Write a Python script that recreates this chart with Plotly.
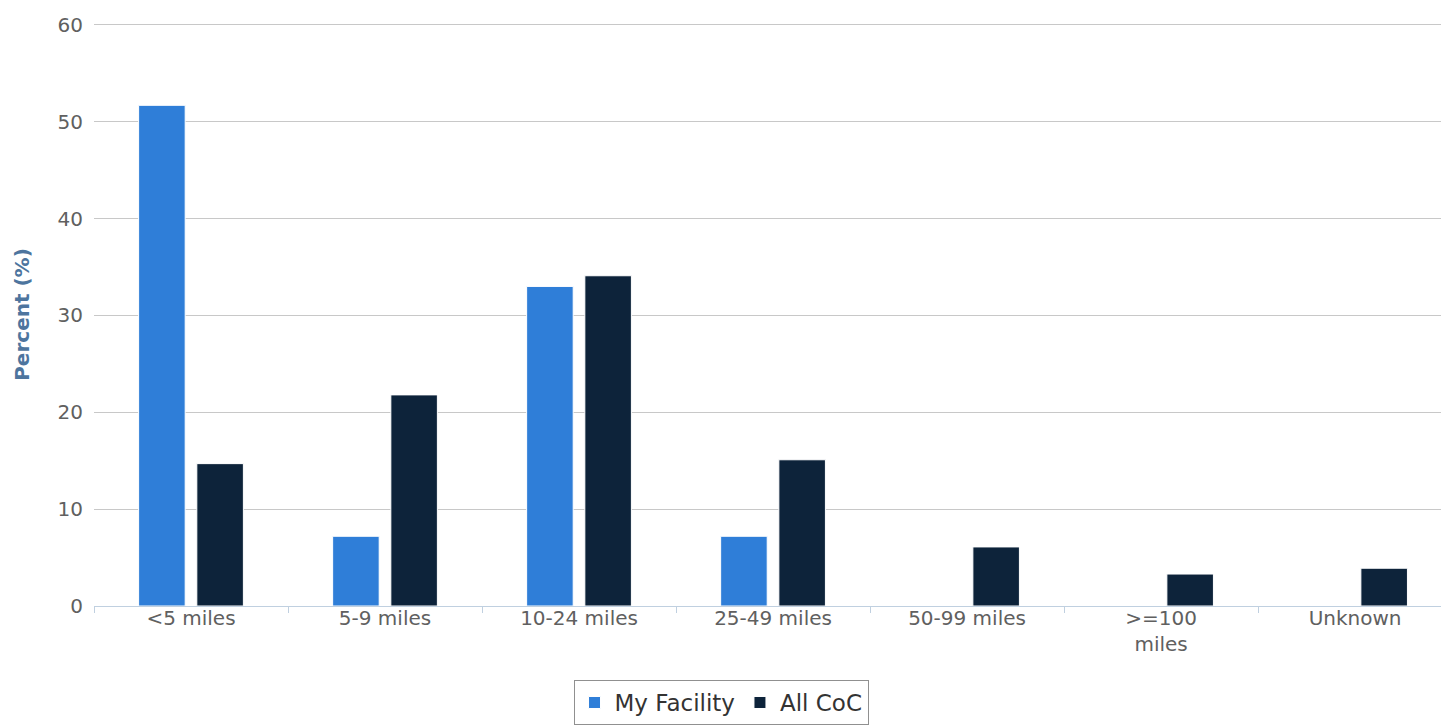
import plotly.graph_objects as go

categories = ["<5 miles", "5-9 miles", "10-24 miles", "25-49 miles", "50-99 miles", ">=100<br>miles", "Unknown"]
my_facility = [51.7, 7.2, 33.0, 7.2, 0, 0, 0]
all_coc = [14.7, 21.8, 34.1, 15.1, 6.1, 3.3, 3.9]
y_ticks = [0, 10, 20, 30, 40, 50, 60]

FONT = "DejaVu Sans"
LABEL_COLOR = "#606060"

fig = go.Figure()
fig.add_trace(go.Bar(
    name="My Facility", x=categories, y=my_facility,
    marker=dict(color="#2f7ed8", line=dict(color="#ffffff", width=1)),
))
fig.add_trace(go.Bar(
    name="All CoC", x=categories, y=all_coc,
    marker=dict(color="#0d233a", line=dict(color="#ffffff", width=1)),
))

fig.update_layout(
    width=1441, height=727,
    margin=dict(l=94, r=0, t=23, b=121, pad=0),
    paper_bgcolor="white", plot_bgcolor="white",
    barmode="group", bargap=0.40, bargroupgap=0.2,
    font=dict(family=FONT, size=20, color=LABEL_COLOR),
    showlegend=True,
    legend=dict(
        orientation="h", x=0.4655, xanchor="center", y=-0.127, yanchor="top",
        bordercolor="#909090", borderwidth=1, bgcolor="white",
        font=dict(family=FONT, size=23, color="#333333"),
        itemwidth=30,
    ),
    xaxis=dict(
        range=[-0.5, 6.443], type="category",
        showline=True, linecolor="#c0d0e0", linewidth=1,
        ticks="outside", tickson="boundaries", ticklen=6, tickcolor="#c0d0e0",
        ticklabelstandoff=-6,
        showgrid=False, zeroline=False,
        tickfont=dict(family=FONT, size=20, color=LABEL_COLOR),
    ),
    yaxis=dict(
        range=[0, 60.2], tickvals=y_ticks,
        showgrid=True, gridcolor="#c8c8c8", gridwidth=1,
        zeroline=False, showline=False, ticks="",
        ticklabelstandoff=10,
        tickfont=dict(family=FONT, size=20, color=LABEL_COLOR),
        title=dict(text="<b>Percent (%)</b>", font=dict(family=FONT, size=20, color="#4d759e"), standoff=22),
    ),
)

fig.write_html(
    "out.html",
    config={"displayModeBar": False},
    post_script="document.body.style.margin='0';document.body.style.overflow='hidden';",
)
